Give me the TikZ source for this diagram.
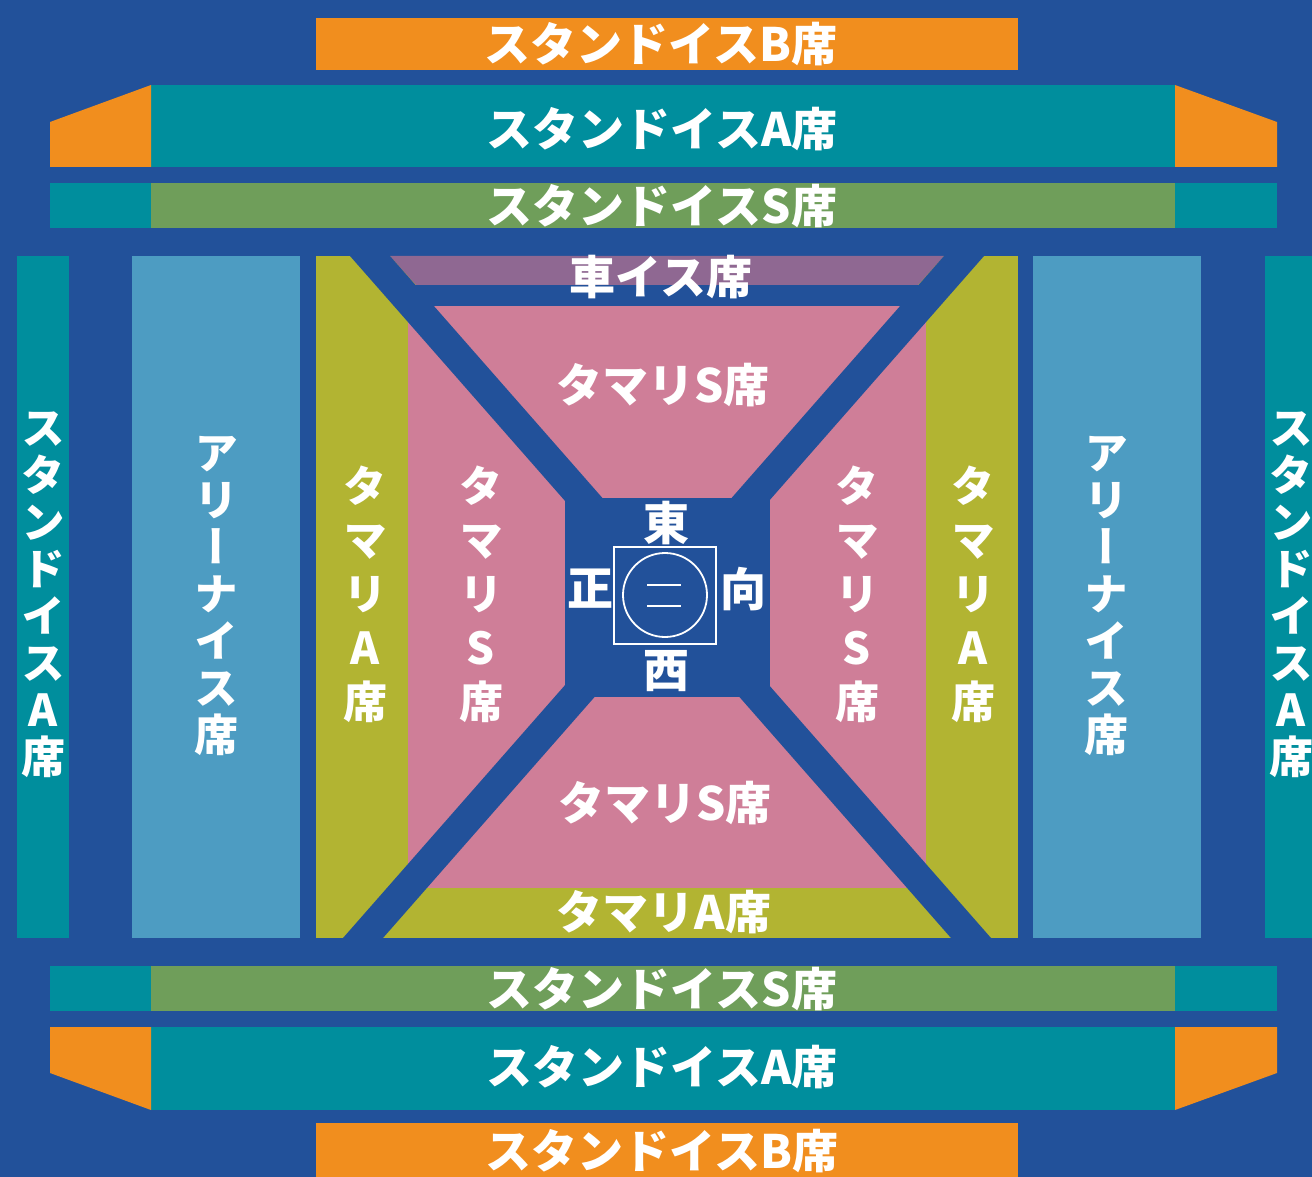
\documentclass[tikz,border=0pt]{standalone}
\usepackage{fontspec}
\newfontfamily\jp{Noto Sans CJK JP}
\newfontfamily\jpv{Noto Sans CJK JP}[RawFeature=+vert]
\definecolor{ground}{RGB}{34,81,154}
\definecolor{orangeB}{RGB}{241,142,30}
\definecolor{tealA}{RGB}{0,142,157}
\definecolor{greenS}{RGB}{111,158,90}
\definecolor{arena}{RGB}{77,156,194}
\definecolor{oliveA}{RGB}{178,180,50}
\definecolor{pinkS}{RGB}{207,126,152}
\definecolor{wheel}{RGB}{143,104,146}

\begin{document}
\begin{tikzpicture}[x=1pt,y=-1pt,
  seat/.style={text=white,inner sep=0pt,font=\jp\bfseries\fontsize{46}{46}\selectfont},
  tate/.style={text=white,inner sep=0pt,align=center,font=\jpv\bfseries\fontsize{44}{47}\selectfont},
  tatewide/.style={tate,font=\jpv\bfseries\fontsize{44}{54}\selectfont},
  hougaku/.style={text=white,inner sep=0pt,font=\jp\bfseries\fontsize{46}{46}\selectfont},
  ring/.style={draw=white,line width=1.8pt}]
\useasboundingbox (0,0) rectangle (1312,1177);
\fill[ground] (0,0) rectangle (1312,1177);

% stands, north side
\fill[orangeB] (316,18) rectangle (1018,70);
\fill[tealA] (151,85) rectangle (1175,167);
\fill[orangeB] (50,122) -- (151,85) -- (151,167) -- (50,167) -- cycle;
\fill[orangeB] (1175,85) -- (1277,122) -- (1277,167) -- (1175,167) -- cycle;
\fill[tealA] (50,183) rectangle (1277,228);
\fill[greenS] (151,183) rectangle (1175,228);

% stands, south side
\fill[tealA] (50,966) rectangle (1277,1011);
\fill[greenS] (151,966) rectangle (1175,1011);
\fill[tealA] (151,1027) rectangle (1175,1110);
\fill[orangeB] (50,1027) -- (151,1027) -- (151,1110) -- (50,1073) -- cycle;
\fill[orangeB] (1175,1027) -- (1277,1027) -- (1277,1073) -- (1175,1110) -- cycle;
\fill[orangeB] (316,1123) rectangle (1018,1190);

% east and west
\fill[tealA] (17,256) rectangle (69,938);
\fill[tealA] (1265,256) rectangle (1320,938);
\fill[arena] (132,256) rectangle (300,938);
\fill[arena] (1033,256) rectangle (1201,938);

% tamari
\fill[oliveA] (316,256) rectangle (1018,938);
\fill[pinkS] (408,306) rectangle (926,888);
\fill[wheel] (390,256) -- (944,256) -- (918,285) -- (416,285) -- cycle;
\fill[ground] (408,285) rectangle (926,306);
\fill[ground] (350,256) -- (390,256) -- (620,518) -- (580,518) -- cycle;
\fill[ground] (984,256) -- (944,256) -- (714,518) -- (754,518) -- cycle;
\fill[ground] (343,938) -- (383,938) -- (613,676) -- (573,676) -- cycle;
\fill[ground] (991,938) -- (951,938) -- (721,676) -- (761,676) -- cycle;
\fill[ground] (565,498) rectangle (770,697);

% dohyo
\draw[ring] (614,547) rectangle (716,644);
\draw[ring] (665,595) circle (42);
\draw[ring] (647,585) -- (681,585);
\draw[ring] (647,606) -- (681,606);

\node[seat] (standB-n) at (661,44) {スタンドイスB席};
\node[seat] (standA-n) at (662,129) {スタンドイスA席};
\node[seat] (standS-n) at (662,206) {スタンドイスS席};
\node[seat] (wheelchair) at (661,277) {車イス席};
\node[seat] (tamariS-n) at (663,385) {タマリS席};
\node[seat] (tamariS-s) at (665,803) {タマリS席};
\node[seat] (tamariA-s) at (664,912) {タマリA席};
\node[seat] (standS-s) at (662,989) {スタンドイスS席};
\node[seat] (standA-s) at (662,1067) {スタンドイスA席};
\node[seat] (standB-s) at (662,1151) {スタンドイスB席};

\node[tate] (standA-w) at (43,595) {ス\\タ\\ン\\ド\\イ\\ス\\A\\席};
\node[tate] (arena-w) at (216,596) {ア\\リ\\ー\\ナ\\イ\\ス\\席};
\node[tatewide] (tamariA-w) at (365,594) {タ\\マ\\リ\\A\\席};
\node[tatewide] (tamariS-w) at (481,594) {タ\\マ\\リ\\S\\席};
\node[tatewide] (tamariS-e) at (857,594) {タ\\マ\\リ\\S\\席};
\node[tatewide] (tamariA-e) at (973,594) {タ\\マ\\リ\\A\\席};
\node[tate] (arena-e) at (1106,596) {ア\\リ\\ー\\ナ\\イ\\ス\\席};
\node[tate] (standA-e) at (1291,595) {ス\\タ\\ン\\ド\\イ\\ス\\A\\席};

\node[hougaku] (higashi) at (666,523) {東};
\node[hougaku] (nishi) at (666,671) {西};
\node[hougaku] (shomen) at (590,589) {正};
\node[hougaku] (mukou) at (743,589) {向};
\end{tikzpicture}
\end{document}
